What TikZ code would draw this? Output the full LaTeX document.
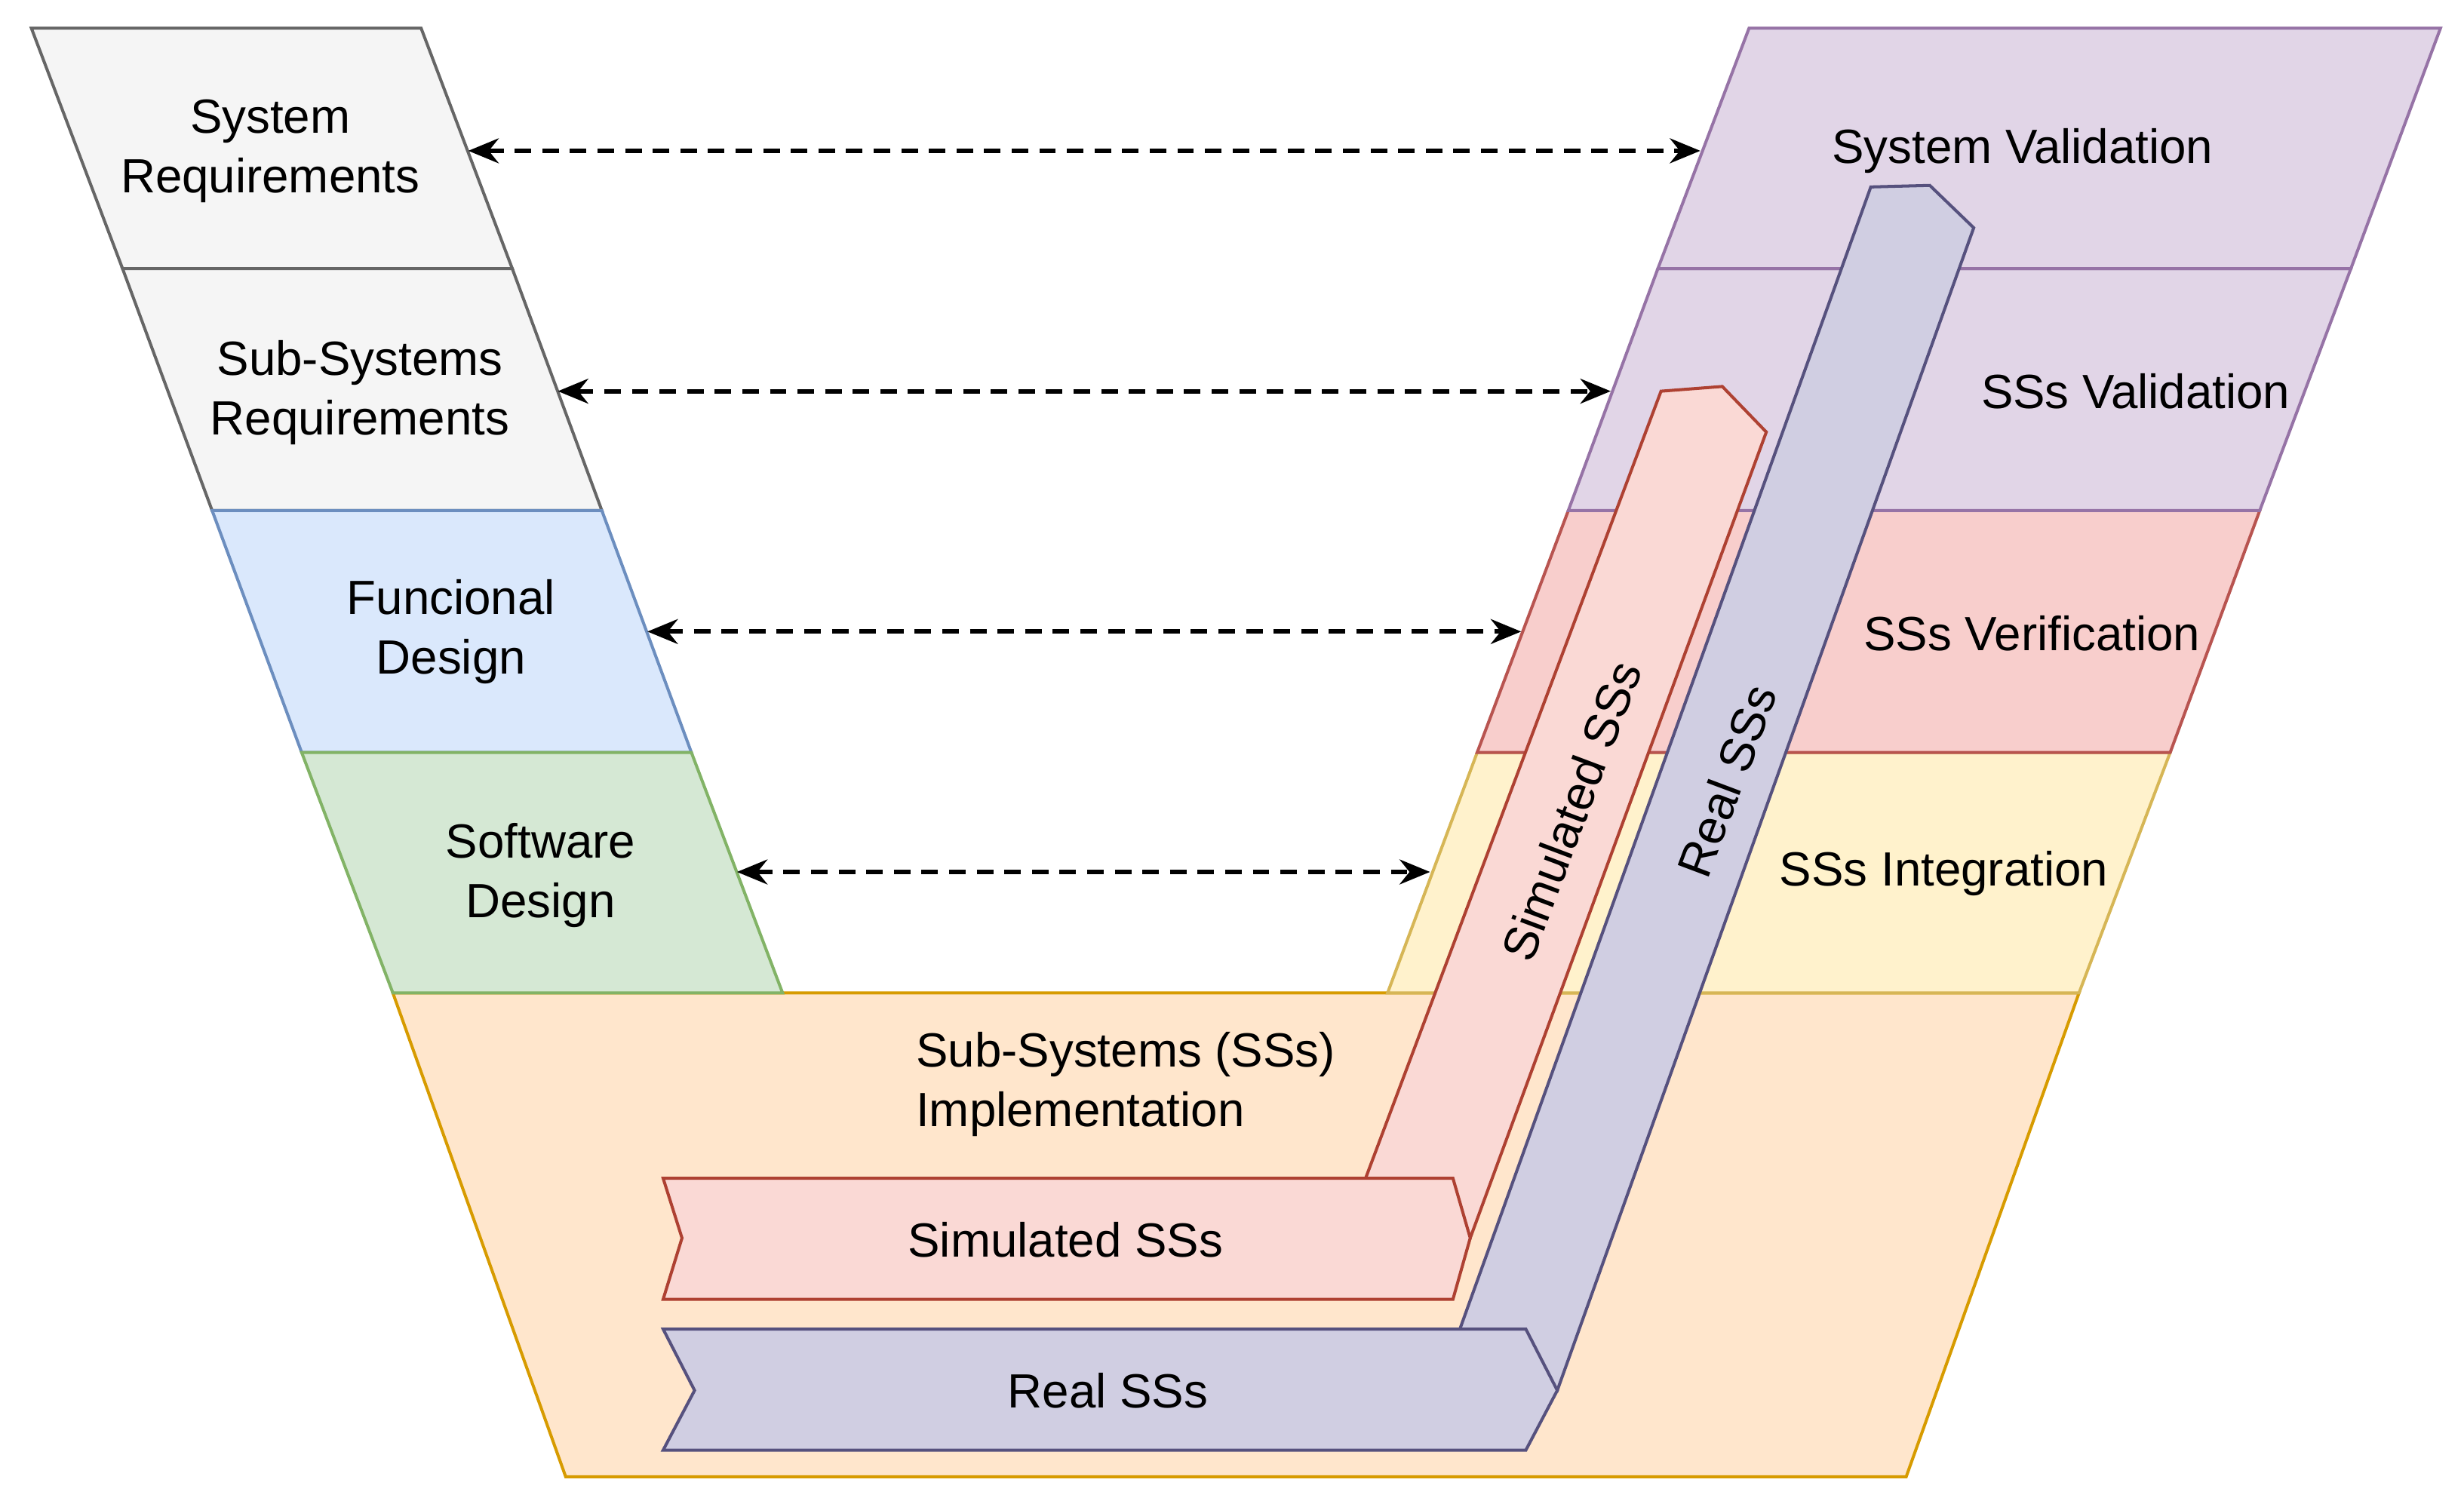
\documentclass[tikz,border=0pt]{standalone}
\usepackage{fontspec}
\setmainfont{Liberation Sans}
\usetikzlibrary{arrows.meta}
\definecolor{gF}{HTML}{F5F5F5}\definecolor{gS}{HTML}{666666}
\definecolor{bF}{HTML}{DAE8FC}\definecolor{bS}{HTML}{6C8EBF}
\definecolor{grF}{HTML}{D5E8D4}\definecolor{grS}{HTML}{82B366}
\definecolor{pF}{HTML}{E1D5E7}\definecolor{pS}{HTML}{9673A6}
\definecolor{rF}{HTML}{F8CECC}\definecolor{rS}{HTML}{B85450}
\definecolor{yF}{HTML}{FFF2CC}\definecolor{yS}{HTML}{D6B656}
\definecolor{oF}{HTML}{FFE6CC}\definecolor{oS}{HTML}{D79B00}
\definecolor{sF}{HTML}{FAD9D5}\definecolor{sS}{HTML}{AE4132}
\definecolor{vF}{HTML}{D0CEE2}\definecolor{vS}{HTML}{56517E}
\begin{document}
\begin{tikzpicture}[x=0.02cm,y=-0.02cm,line width=1.1pt,line join=miter,
  lbl/.style={font=\fontsize{17.4}{21.6}\selectfont,align=center,inner sep=0pt},
  darr/.style={dash pattern=on 6pt off 4pt,line width=1.6pt,{Stealth[length=11pt,width=9pt]}-{Stealth[length=11pt,width=9pt]}}]
\useasboundingbox (0,0) rectangle (1568,955);
% bottom trapezoid
\draw[fill=oF,draw=oS] (250,632) -- (1323,632) -- (1213,940) -- (360,940) -- cycle;
% left column
\draw[fill=gF,draw=gS] (20,18) -- (268,18) -- (326,171) -- (78,171) -- cycle;
\draw[fill=gF,draw=gS] (78,171) -- (326,171) -- (383,325) -- (135,325) -- cycle;
\draw[fill=bF,draw=bS] (135,325) -- (383,325) -- (440,479) -- (192,479) -- cycle;
\draw[fill=grF,draw=grS] (192,479) -- (440,479) -- (498,632) -- (250,632) -- cycle;
% right column
\draw[fill=yF,draw=yS] (940,479) -- (1381,479) -- (1323,632) -- (883,632) -- cycle;
\draw[fill=rF,draw=rS] (998,325) -- (1438,325) -- (1381,479) -- (940,479) -- cycle;
\draw[fill=pF,draw=pS] (1055,171) -- (1496,171) -- (1438,325) -- (998,325) -- cycle;
\draw[fill=pF,draw=pS] (1113,18) -- (1553,18) -- (1496,171) -- (1055,171) -- cycle;
% labels
\node[lbl] (sr) at (172,96) {System\\Requirements};
\node[lbl] (ssr) at (229,250) {Sub-Systems\\Requirements};
\node[lbl] (fd) at (287,402) {Funcional\\Design};
\node[lbl] (sd) at (344,557) {Software\\Design};
\node[lbl] (sv) at (1287,96) {System Validation};
\node[lbl] (ssv) at (1359,249) {SSs Validation};
\node[lbl] (ssvf) at (1293,403) {SSs Verification};
\node[lbl] (ssi) at (1237,556) {SSs Integration};
\node[lbl,align=left,anchor=west] (impl) at (582,690) {Sub-Systems (SSs)\\Implementation};
% dashed arrows
\coordinate (a1) at (298,96); \coordinate (b1) at (1082,96);
\coordinate (a2) at (355,249); \coordinate (b2) at (1025,249);
\coordinate (a3) at (412,402); \coordinate (b3) at (968,402);
\coordinate (a4) at (469,555); \coordinate (b4) at (910,555);
\draw[darr] (a1) -- (b1);
\draw[darr] (a2) -- (b2);
\draw[darr] (a3) -- (b3);
\draw[darr] (a4) -- (b4);
% simulated arrows
\draw[fill=sF,draw=sS] (869,750) -- (1057,249) -- (1096,246) -- (1124,275) -- (935.6,788) -- cycle;
\draw[fill=sF,draw=sS] (422,750) -- (924.6,750) -- (935.6,788) -- (924.6,827) -- (422,827) -- (434,788) -- cycle;
% real arrows
\draw[fill=vF,draw=vS] (929,846) -- (1190.5,119) -- (1228,118) -- (1256,145) -- (991,885) -- cycle;
\draw[fill=vF,draw=vS] (422,846) -- (971,846) -- (991,885) -- (971,923) -- (422,923) -- (442,885) -- cycle;
\node[lbl] (simh) at (678,789) {Simulated SSs};
\node[lbl] (realh) at (705,885) {Real SSs};
\node[lbl,rotate=69.4] (simd) at (1000,516) {Simulated SSs};
\node[lbl,rotate=69.4] (reald) at (1099,497) {Real SSs};
\end{tikzpicture}
\end{document}
